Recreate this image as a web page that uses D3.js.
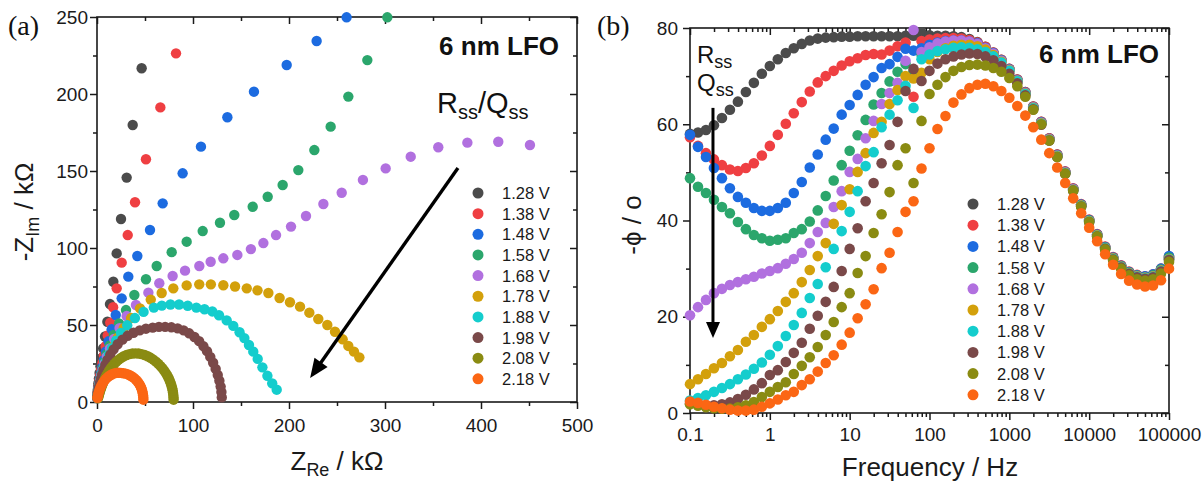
<!DOCTYPE html>
<html>
<head>
<meta charset="utf-8">
<script src="https://cdn.jsdelivr.net/npm/d3@7"></script>
<style>
  body { margin: 0; background: #fff; }
  svg { display: block; font-family: "Liberation Sans", Arial, sans-serif; }
  .tick text { font-size: 19px; fill: #1a1a1a; }
  .tick line { stroke: #1a1a1a; stroke-width: 1.5; }
</style>
</head>
<body>
<script>
// Legend labels and colours (one per bias voltage)
const voltages = ['1.28 V', '1.38 V', '1.48 V', '1.58 V', '1.68 V', '1.78 V', '1.88 V', '1.98 V', '2.08 V', '2.18 V'];
const colors = ['#4b4b4b', '#ef3f42', '#1c6be0', '#2ba66c', '#b170df', '#d3a00b', '#14cdcd', '#7a4949', '#8a8b12', '#fb6614'];

// Ticks
const zReTicks = [0, 100, 200, 300, 400, 500];
const zReMinor = [50, 150, 250, 350, 450];
const zImTicks = [0, 50, 100, 150, 200, 250];
const zImMinor = [25, 75, 125, 175, 225];
const freqTicks = [0.1, 1, 10, 100, 1000, 10000, 100000];
const phaseTicks = [0, 20, 40, 60, 80];
const phaseMinor = [10, 30, 50, 70];

// (a) Nyquist data, [Z_Re, -Z_Im] in kOhm
const nyq128 = [[46.5,216.7],[37.2,179.9],[30.9,145.7],[25.0,118.8],[20.5,96.5],[17.0,78.1],[13.5,63.6],[10.8,52.1],[8.4,42.5],[6.4,34.8],[4.8,28.5],[3.6,23.2],[2.7,18.8],[2.0,15.2],[1.5,12.2],[1.1,9.8],[0.8,7.8],[0.6,6.1],[0.45,4.8],[0.35,3.7],[0.25,2.8]];
const nyq138 = [[82.3,226.4],[66.0,191.3],[51.0,157.6],[39.6,129.7],[32.0,108.4],[25.7,90.5],[20.5,73.8],[16.8,61.5],[13.8,51.5],[11.2,43.2],[9.0,36.2],[7.2,30.3],[5.7,25.3],[4.5,21.1],[3.5,17.5],[2.7,14.5],[2.1,12.0],[1.6,9.8],[1.2,8.0],[0.9,6.5],[0.65,5.2],[0.5,4.1],[0.35,3.2],[0.25,2.5]];
const nyq148 = [[260.0,249.8],[228.8,234.4],[197.6,218.8],[163.5,201.5],[135.8,184.9],[108.3,165.8],[89.2,148.5],[68.4,129.0],[55.2,111.7],[42.0,94.8],[32.6,81.4],[25.7,67.3],[19.5,56.5],[15.3,47.2],[12.0,39.4],[9.4,32.8],[7.3,27.3],[5.6,22.6],[4.3,18.6],[3.3,15.2],[2.5,12.4],[1.9,10.0],[1.4,8.1],[1.05,6.5],[0.78,5.2],[0.57,4.1],[0.42,3.2],[0.3,2.5]];
const nyq158 = [[302.4,249.8],[281.6,222.0],[261.8,198.3],[243.4,178.8],[226.4,163.6],[209.7,150.6],[193.4,140.9],[177.8,133.3],[162.2,126.8],[143.0,121.4],[128.1,116.4],[110.1,111.0],[93.4,104.1],[77.8,97.3],[62.2,88.3],[51.0,79.7],[38.9,69.5],[30.2,59.7],[23.0,51.0],[17.5,43.5],[13.3,36.8],[10.1,31.0],[7.7,26.0],[5.8,21.6],[4.4,17.9],[3.3,14.7],[2.5,12.0],[1.9,9.7],[1.4,7.8],[1.0,6.2],[0.75,4.9],[0.55,3.8],[0.4,2.9]];
const nyq168 = [[451.0,166.9],[418.0,169.0],[385.8,168.4],[355.5,165.4],[326.8,159.3],[300.7,151.7],[277.0,144.2],[254.9,135.9],[235.8,128.6],[217.7,120.8],[202.1,113.9],[186.5,108.4],[173.3,103.2],[160.3,99.3],[146.2,95.5],[131.6,93.3],[118.4,91.1],[106.6,88.3],[91.7,85.3],[78.8,81.8],[64.9,77.1],[53.5,71.0],[40.6,63.0],[30.9,55.8],[23.5,48.0],[17.8,41.0],[13.5,34.8],[10.2,29.4],[7.8,24.8],[5.9,20.7],[4.5,17.2],[3.4,14.2],[2.6,11.6],[1.9,9.4],[1.45,7.6],[1.05,6.1],[0.8,4.8],[0.58,3.8],[0.42,2.9]];
const nyq178 = [[273.3,29.0],[267.7,32.7],[261.8,36.4],[255.9,40.7],[247.9,45.6],[239.9,50.0],[230.5,53.9],[221.2,58.0],[211.5,61.9],[201.0,64.8],[190.2,67.5],[178.5,70.8],[167.2,72.5],[156.0,73.8],[143.8,75.0],[131.6,75.8],[118.6,76.4],[106.5,76.4],[93.4,75.7],[79.5,73.8],[67.4,70.8],[56.0,66.5],[44.8,60.8],[35.5,54.5],[27.8,48.0],[21.7,41.8],[16.9,36.0],[13.1,30.8],[10.1,26.2],[7.8,22.1],[6.0,18.6],[4.6,15.5],[3.5,12.9],[2.7,10.6],[2.0,8.7],[1.5,7.1],[1.1,5.7],[0.8,4.5],[0.6,3.5],[0.45,2.7]];
const nyq188 = [[187.2,8.0],[182.5,12.1],[177.5,17.0],[172.3,22.5],[167.4,28.0],[162.8,32.7],[158.3,37.0],[153.5,41.5],[148.5,45.3],[142.0,49.4],[135.1,53.0],[127.1,56.3],[120.1,58.8],[112.0,60.2],[103.5,61.3],[94.5,62.5],[85.5,63.3],[76.5,63.3],[67.5,62.6],[59.2,61.3],[48.5,58.5],[39.5,54.5],[31.5,49.8],[25.0,44.8],[19.8,39.8],[15.6,35.0],[12.3,30.5],[9.7,26.4],[7.6,22.7],[5.9,19.4],[4.6,16.5],[3.6,13.9],[2.8,11.6],[2.15,9.6],[1.65,7.9],[1.25,6.4],[0.95,5.1],[0.7,4.0],[0.5,3.1]];
const nyq198 = [[130.0,3.0],[129.6,6.5],[128.8,10.0],[127.5,13.8],[125.8,17.5],[123.6,21.5],[121.0,25.5],[118.0,29.3],[114.6,33.0],[110.8,36.3],[106.4,39.5],[101.5,42.2],[96.0,44.6],[90.2,46.5],[84.0,47.8],[77.5,48.5],[71.0,48.8],[64.5,48.8],[58.0,48.3],[51.0,47.6],[44.5,46.5],[38.0,45.0],[32.0,43.0],[26.5,40.5],[21.5,37.5],[17.3,34.2],[13.8,30.8],[10.9,27.3],[8.6,24.0],[6.8,20.8],[5.3,17.8],[4.1,15.1],[3.2,12.7],[2.5,10.6],[1.9,8.8],[1.5,7.2],[1.1,5.8],[0.85,4.6],[0.65,3.6],[0.5,2.8]];
const nyq208 = [[79.8,1.5],[79.7,3.0],[79.5,4.5],[79.2,6.0],[78.8,7.5],[78.3,9.0],[77.6,10.6],[76.8,12.2],[75.8,13.8],[74.7,15.4],[73.4,17.0],[71.9,18.6],[70.2,20.2],[68.3,21.8],[66.2,23.3],[63.9,24.8],[61.4,26.2],[58.7,27.5],[55.8,28.7],[52.8,29.7],[49.7,30.5],[46.5,31.1],[43.3,31.5],[40.1,31.6],[36.9,31.5],[33.8,31.1],[30.8,30.5],[27.9,29.7],[25.2,28.7],[22.6,27.5],[20.2,26.2],[18.0,24.8],[16.0,23.3],[14.2,21.8],[12.5,20.2],[11.0,18.6],[9.6,17.0],[8.4,15.4],[7.3,13.9],[6.3,12.4],[5.4,11.0],[4.6,9.7],[3.9,8.5],[3.3,7.4],[2.8,6.4],[2.3,5.4],[1.9,4.5],[1.5,3.7],[1.2,3.0],[0.9,2.4]];
const nyq218 = [[48.3,1.5],[48.2,3.0],[48.0,4.3],[47.7,5.6],[47.2,7.0],[46.6,8.3],[45.8,9.6],[44.8,10.9],[43.6,12.1],[42.2,13.3],[40.6,14.4],[38.8,15.5],[36.8,16.4],[34.6,17.2],[32.3,17.9],[29.9,18.4],[27.4,18.7],[24.9,18.9],[22.5,19.0],[20.2,18.9],[18.0,18.6],[15.7,18.0],[13.4,17.2],[11.2,16.2],[9.2,15.0],[7.4,13.6],[5.8,12.1],[4.4,10.5],[3.3,8.9],[2.4,7.4],[1.7,6.0],[1.15,4.7],[0.75,3.6],[0.45,2.7]];

// (b) Bode phase data, -phi in degrees at each frequency
const freqHz = [0.1, 0.1259, 0.1585, 0.1995, 0.2512, 0.3162, 0.3981, 0.5012, 0.631, 0.7943,
  1, 1.259, 1.585, 1.995, 2.512, 3.162, 3.981, 5.012, 6.31, 7.943,
  10, 12.59, 15.85, 19.95, 25.12, 31.62, 39.81, 50.12, 63.1, 79.43,
  100, 125.9, 158.5, 199.5, 251.2, 316.2, 398.1, 501.2, 631, 794.3,
  1000, 1259, 1585, 1995, 2512, 3162, 3981, 5012, 6310, 7943,
  10000, 12590, 15850, 19950, 25120, 31620, 39810, 50120, 63100, 79430, 100000];
const phase128 = [58.0, 58.3, 58.8, 59.8, 61.3, 63.0, 64.7, 66.7, 68.6, 70.5, 72.1, 73.5, 74.8, 75.8, 76.7, 77.4, 77.8, 78.0,
  78.1, 78.2, 78.2, 78.3, 78.3, 78.3, 78.3, 78.3, 78.3, 78.4, 78.4, 79.0, 78.5, 78.4, 78.4, 78.3,
  78.1, 77.7, 77.1, 76.1, 74.9, 73.4, 71.5, 69.3, 66.7, 63.7, 60.5, 57.1, 53.7, 50.1, 46.6, 43.3, 40.1, 37.1, 34.5, 32.3, 30.6, 29.3, 28.6, 28.3, 28.6, 29.8, 32.2];
const phase138 = [57.3, 55.5, 54.0, 52.7, 51.5, 50.6, 50.3, 50.9, 51.9, 53.5, 55.5, 57.8, 60.1, 62.3, 64.6, 66.8, 68.7, 70.0,
  71.1, 72.2, 73.1, 73.7, 74.4, 74.6, 74.5, 75.3, 76.2, 77.0, 65.7, 77.3, 77.6, 77.8, 77.9, 77.9,
  77.8, 77.5, 77.0, 76.1, 74.9, 73.4, 71.5, 69.3, 66.7, 63.7, 60.5, 57.1, 53.7, 50.2, 46.7, 43.4, 40.2, 37.2, 34.6, 32.4, 30.7, 29.4, 28.7, 28.4, 28.8, 30.0, 32.5];
const phase148 = [57.8, 55.3, 53.2, 50.9, 48.8, 46.7, 44.9, 43.7, 42.6, 42.0, 42.0, 42.6, 43.7, 45.7, 48.0, 51.0, 53.7, 56.8,
  59.1, 62.0, 64.0, 66.1, 68.2, 69.8, 71.7, 72.5, 74.0, 75.7, 75.3, 75.8, 76.5, 77.0, 77.3, 77.4,
  77.4, 77.2, 76.8, 75.9, 74.8, 73.3, 71.4, 69.2, 66.6, 63.6, 60.4, 57.0, 53.6, 50.1, 46.6, 43.3, 40.1, 37.1, 34.5, 32.3, 30.6, 29.3, 28.6, 28.4, 28.8, 30.0, 32.6];
const phase158 = [48.8, 47.0, 45.7, 44.3, 42.8, 41.5, 39.7, 38.2, 37.0, 36.3, 35.8, 36.0, 36.3, 37.4, 38.2, 39.8, 42.1, 45.1,
  48.3, 51.5, 54.5, 57.7, 60.9, 64.1, 66.5, 68.9, 70.9, 72.5, 71.0, 74.5, 75.8, 76.4, 76.8, 77.0,
  77.0, 76.9, 76.5, 75.7, 74.6, 73.2, 71.3, 69.1, 66.5, 63.5, 60.3, 56.9, 53.5, 50.0, 46.5, 43.2, 40.0, 37.0, 34.4, 32.2, 30.5, 29.2, 28.5, 28.2, 28.6, 29.8, 32.3];
const phase168 = [20.3, 22.0, 23.5, 24.9, 25.8, 26.6, 27.2, 27.8, 28.3, 29.0, 29.5, 30.1, 31.0, 32.0, 33.3, 35.3, 37.6, 39.5,
  42.8, 46.1, 50.1, 52.8, 57.1, 60.7, 64.2, 66.5, 68.6, 73.2, 79.6, 75.0, 76.0, 76.8, 77.2, 77.4,
  77.4, 77.2, 76.7, 75.8, 74.7, 73.2, 71.3, 69.1, 66.5, 63.5, 60.3, 56.9, 53.5, 50.0, 46.5, 43.1, 39.9, 36.9, 34.3, 32.1, 30.4, 29.1, 28.4, 28.1, 28.4, 29.6, 32.0];
const phase178 = [6.0, 7.0, 8.1, 9.3, 10.4, 11.8, 13.1, 14.8, 16.2, 17.9, 19.5, 21.2, 23.1, 24.9, 27.2, 29.7, 32.6, 35.3,
  39.3, 43.2, 46.5, 50.1, 54.0, 58.2, 60.5, 64.2, 67.1, 70.0, 69.5, 70.7, 73.5, 75.0, 75.8, 76.3,
  76.5, 76.5, 76.2, 75.5, 74.4, 73.0, 71.2, 69.0, 66.4, 63.4, 60.2, 56.8, 53.4, 49.9, 46.4, 43.1, 39.9, 36.9, 34.3, 32.1, 30.4, 29.1, 28.4, 28.1, 28.4, 29.6, 32.0];
const phase188 = [2.6, 3.1, 3.7, 4.4, 5.2, 6.0, 7.0, 8.0, 9.2, 10.5, 12.1, 13.9, 16.0, 18.3, 20.8, 23.9, 26.8, 30.3,
  34.1, 37.8, 41.8, 46.1, 51.3, 54.2, 59.4, 62.0, 65.0, 68.0, 63.4, 73.5, 74.5, 75.2, 75.6, 75.9,
  76.0, 75.9, 75.6, 75.0, 74.1, 72.8, 71.1, 68.9, 66.3, 63.3, 60.1, 56.7, 53.3, 49.8, 46.3, 43.0, 39.8, 36.8, 34.2, 32.0, 30.3, 29.0, 28.3, 28.0, 28.3, 29.5, 31.9];
const phase198 = [2.0, 1.8, 1.6, 1.6, 1.8, 2.2, 2.9, 3.8, 4.9, 6.2, 7.9, 8.9, 10.6, 12.5, 14.6, 17.5, 20.2, 23.1,
  26.2, 29.5, 34.1, 38.4, 44.0, 47.8, 51.9, 55.7, 60.5, 66.9, 71.5, 69.0, 71.1, 72.6, 73.5, 74.1,
  74.5, 74.7, 74.6, 74.1, 73.3, 72.1, 70.5, 68.5, 66.0, 63.1, 59.9, 56.6, 53.2, 49.7, 46.2, 42.9, 39.7, 36.7, 34.1, 31.9, 30.2, 28.9, 28.2, 27.9, 28.2, 29.4, 31.8];
const phase208 = [1.8, 1.5, 1.2, 1.0, 0.9, 0.9, 1.2, 1.6, 2.3, 3.3, 4.4, 5.4, 6.4, 8.1, 9.8, 11.6, 13.7, 16.2,
  18.9, 22.0, 24.9, 29.1, 32.6, 37.4, 41.3, 45.9, 51.5, 55.0, 47.8, 60.7, 66.3, 68.2, 69.8, 71.1,
  71.9, 72.3, 72.4, 72.2, 71.7, 70.9, 69.6, 67.9, 65.7, 63.0, 60.0, 56.6, 53.2, 49.7, 46.2, 42.9, 39.7, 36.7, 34.0, 31.8, 30.0, 28.6, 27.8, 27.5, 27.8, 29.0, 31.4];
const phase218 = [2.4, 2.1, 1.7, 1.3, 1.0, 0.7, 0.5, 0.5, 0.7, 1.3, 2.0, 2.8, 3.7, 4.4, 5.8, 7.0, 8.6, 10.4,
  12.0, 14.2, 16.7, 19.7, 22.6, 25.7, 30.1, 33.3, 37.6, 41.8, 44.0, 50.8, 55.0, 59.0, 61.7, 64.5,
  66.2, 67.5, 68.2, 68.4, 67.9, 66.9, 65.5, 63.8, 61.8, 59.4, 56.8, 54.0, 51.0, 47.8, 44.6, 41.5, 38.5, 35.7, 33.0, 30.8, 28.9, 27.5, 26.7, 26.3, 26.5, 27.6, 30.0];

const nyquist = [nyq128, nyq138, nyq148, nyq158, nyq168, nyq178, nyq188, nyq198, nyq208, nyq218];
const phases = [phase128, phase138, phase148, phase158, phase168, phase178, phase188, phase198, phase208, phase218];

const svg = d3.select('body').append('svg')
  .attr('width', 1204)
  .attr('height', 490);

const ink = '#1a1a1a';

// Scales
const xa = d3.scaleLinear().domain([0, 500]).range([97, 577]);
const ya = d3.scaleLinear().domain([0, 250]).range([402, 17]);
const xb = d3.scaleLog().domain([0.1, 100000]).range([690, 1169]);
const yb = d3.scaleLinear().domain([0, 80]).range([413, 28]);

const noLabel = () => '';

function frame(x, y, xMajor, xMinor, yMajor, yMinor, xFmt, xPad, yPad) {
  const g = svg.append('g');
  const [x0, x1] = x.range();
  const [y0, y1] = y.range();
  const add = (axis, tx, ty) => g.append('g')
    .attr('transform', `translate(${tx},${ty})`)
    .call(axis)
    .call(a => a.select('.domain').remove());

  add(d3.axisBottom(x).tickValues(xMajor).tickSize(7).tickPadding(xPad).tickFormat(xFmt), 0, y0);
  add(d3.axisBottom(x).tickValues(xMinor).tickSize(4).tickFormat(noLabel), 0, y0);
  add(d3.axisTop(x).tickValues(xMajor).tickSize(-7).tickFormat(noLabel), 0, y1);
  add(d3.axisTop(x).tickValues(xMinor).tickSize(-4).tickFormat(noLabel), 0, y1);
  add(d3.axisLeft(y).tickValues(yMajor).tickSize(7).tickPadding(yPad).tickFormat(d3.format('d')), x0, 0);
  add(d3.axisLeft(y).tickValues(yMinor).tickSize(4).tickFormat(noLabel), x0, 0);
  add(d3.axisRight(y).tickValues(yMajor).tickSize(-7).tickFormat(noLabel), x1, 0);
  add(d3.axisRight(y).tickValues(yMinor).tickSize(-4).tickFormat(noLabel), x1, 0);

  g.append('rect')
    .attr('x', x0).attr('y', y1)
    .attr('width', x1 - x0).attr('height', y0 - y1)
    .attr('fill', 'none')
    .attr('stroke', ink)
    .attr('stroke-width', 1.6);
}

// ---------- (a) Nyquist ----------
frame(xa, ya, zReTicks, zReMinor, zImTicks, zImMinor, d3.format('d'), 10, 2);

nyquist.forEach((pts, i) => {
  svg.append('g').selectAll('circle')
    .data(pts.filter(p => p[0] <= 500 && p[1] <= 250))
    .join('circle')
    .attr('cx', d => xa(d[0]))
    .attr('cy', d => ya(d[1]))
    .attr('r', 5.2)
    .attr('fill', colors[i]);
});

// ---------- (b) Bode phase ----------
const freqMinor = xb.ticks().filter(t => !freqTicks.includes(t) && t > 0.1 && t < 100000);
frame(xb, yb, freqTicks, freqMinor, phaseTicks, phaseMinor, d => String(d), 8, 5);

phases.forEach((vals, i) => {
  svg.append('g').selectAll('circle')
    .data(vals.map((v, k) => [freqHz[k], v]))
    .join('circle')
    .attr('cx', d => xb(d[0]))
    .attr('cy', d => yb(d[1]))
    .attr('r', 5.3)
    .attr('fill', colors[i]);
});

// Legends
function legend(x, y0, step) {
  const g = svg.append('g');
  voltages.forEach((v, i) => {
    g.append('circle')
      .attr('cx', x).attr('cy', y0 + i * step)
      .attr('r', 5.5)
      .attr('fill', colors[i]);
    g.append('text')
      .attr('x', x + 24).attr('y', y0 + i * step)
      .attr('dominant-baseline', 'central')
      .style('font-size', '16.5px')
      .style('fill', ink)
      .text(v);
  });
}
legend(478, 193, 20.65);
legend(973, 204, 21.2);

// Titles and labels
svg.append('text').attr('x', 559).attr('y', 55)
  .attr('text-anchor', 'end')
  .style('font-size', '26px').style('font-weight', 'bold').style('fill', '#111')
  .text('6 nm LFO');
svg.append('text').attr('x', 1159).attr('y', 63)
  .attr('text-anchor', 'end')
  .style('font-size', '26px').style('font-weight', 'bold').style('fill', '#111')
  .text('6 nm LFO');

svg.append('text').attr('x', 8).attr('y', 35)
  .style('font-family', '"Liberation Serif", "Times New Roman", serif')
  .style('font-size', '28px').style('fill', '#111')
  .text('(a)');
svg.append('text').attr('x', 597).attr('y', 35)
  .style('font-family', '"Liberation Serif", "Times New Roman", serif')
  .style('font-size', '28px').style('fill', '#111')
  .text('(b)');

// axis titles with subscripts
function subText(sel, parts, big, small) {
  parts.forEach(([s, sub]) => {
    sel.append('tspan')
      .attr('dy', sub ? 6 : (sel.selectAll('tspan').size() > 0 ? -6 : 0))
      .style('font-size', (sub ? small : big) + 'px')
      .text(s);
  });
}

const xtA = svg.append('text').attr('x', 337).attr('y', 470)
  .attr('text-anchor', 'middle').style('fill', ink);
xtA.append('tspan').style('font-size', '26px').text('Z');
xtA.append('tspan').attr('dy', 6).style('font-size', '18px').text('Re');
xtA.append('tspan').attr('dy', -6).style('font-size', '26px').text(' / k\u03A9');

const ytA = svg.append('text').attr('transform', 'translate(33,212) rotate(-90)')
  .attr('text-anchor', 'middle').style('fill', ink);
ytA.append('tspan').style('font-size', '26px').text('-Z');
ytA.append('tspan').attr('dy', 6).style('font-size', '18px').text('Im');
ytA.append('tspan').attr('dy', -6).style('font-size', '26px').text(' / k\u03A9');

svg.append('text').attr('x', 930).attr('y', 476)
  .attr('text-anchor', 'middle').style('fill', ink).style('font-size', '26px')
  .text('Frequency / Hz');

svg.append('text').attr('transform', 'translate(641,225) rotate(-90)')
  .attr('text-anchor', 'middle').style('fill', ink).style('font-size', '26px')
  .text('-\u03D5 / o');

// R_ss / Q_ss annotation, panel (a)
const rq = svg.append('text').attr('x', 437).attr('y', 113).style('fill', '#111');
rq.append('tspan').style('font-size', '29px').text('R');
rq.append('tspan').attr('dy', 6).style('font-size', '20px').text('ss');
rq.append('tspan').attr('dy', -6).style('font-size', '29px').text('/Q');
rq.append('tspan').attr('dy', 6).style('font-size', '20px').text('ss');

// R_ss and Q_ss annotation, panel (b)
[['R', 63], ['Q', 91]].forEach(([c, y]) => {
  const t = svg.append('text').attr('x', 697).attr('y', y).style('fill', '#111');
  t.append('tspan').style('font-size', '24px').text(c);
  t.append('tspan').attr('dy', 5).style('font-size', '18px').text('ss');
});

// Arrows
function arrow(p0, p1, w, headLen, headHalf) {
  const dx = p1[0] - p0[0], dy = p1[1] - p0[1];
  const L = Math.hypot(dx, dy);
  const ux = dx / L, uy = dy / L;
  const bx = p1[0] - ux * headLen, by = p1[1] - uy * headLen;
  svg.append('line')
    .attr('x1', p0[0]).attr('y1', p0[1])
    .attr('x2', bx + ux * 2).attr('y2', by + uy * 2)
    .attr('stroke', '#000').attr('stroke-width', w);
  svg.append('path')
    .attr('d', `M${p1[0]},${p1[1]} L${bx - uy * headHalf},${by + ux * headHalf} L${bx + uy * headHalf},${by - ux * headHalf} Z`)
    .attr('fill', '#000');
}
arrow([xa(376), ya(152)], [xa(222), ya(15.6)], 3.4, 19, 8);
arrow([xb(0.194), yb(63.4)], [xb(0.194), yb(15.6)], 3, 16, 7);
</script>
</body>
</html>
